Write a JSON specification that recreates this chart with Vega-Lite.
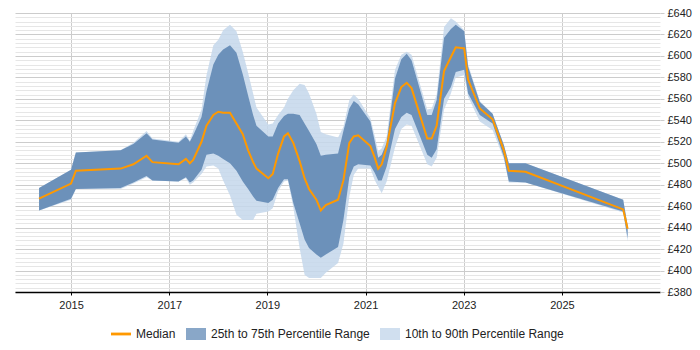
{
  "$schema": "https://vega.github.io/schema/vega-lite/v6.json",
  "width": 645,
  "height": 279,
  "autosize": "none",
  "padding": {"left": 15, "top": 13, "right": 40, "bottom": 58},
  "background": "#ffffff",
  "config": {
    "view": {"stroke": null},
    "font": "Liberation Sans",
    "legend": {"layout": {"bottom": {"anchor": "middle"}}}
  },
  "data": {
    "values": [
      {"d": "2014-05-08", "p10": 456, "p25": 456, "med": 467, "p75": 477, "p90": 477},
      {"d": "2015-01-01", "p10": 466, "p25": 467, "med": 481, "p75": 494, "p90": 494},
      {"d": "2015-02-06", "p10": 476, "p25": 476, "med": 493, "p75": 510, "p90": 510},
      {"d": "2016-01-05", "p10": 476, "p25": 477, "med": 495, "p75": 512, "p90": 512},
      {"d": "2016-04-09", "p10": 481, "p25": 482, "med": 499, "p75": 518, "p90": 519},
      {"d": "2016-07-16", "p10": 487, "p25": 488, "med": 507, "p75": 528, "p90": 530},
      {"d": "2016-08-29", "p10": 484, "p25": 484, "med": 501, "p75": 522, "p90": 523},
      {"d": "2017-03-11", "p10": 483, "p25": 483, "med": 499, "p75": 519, "p90": 520},
      {"d": "2017-05-05", "p10": 486, "p25": 487, "med": 504, "p75": 525, "p90": 527},
      {"d": "2017-06-03", "p10": 480, "p25": 482, "med": 500, "p75": 520, "p90": 521},
      {"d": "2017-06-28", "p10": 482, "p25": 484, "med": 503, "p75": 526, "p90": 530},
      {"d": "2017-08-29", "p10": 490, "p25": 494, "med": 520, "p75": 543, "p90": 550},
      {"d": "2017-10-05", "p10": 497, "p25": 508, "med": 535, "p75": 567, "p90": 582},
      {"d": "2017-11-25", "p10": 498, "p25": 509, "med": 545, "p75": 592, "p90": 610},
      {"d": "2018-01-01", "p10": 495, "p25": 507, "med": 548, "p75": 601, "p90": 615},
      {"d": "2018-02-06", "p10": 484, "p25": 504, "med": 547, "p75": 606, "p90": 624},
      {"d": "2018-03-29", "p10": 470, "p25": 500, "med": 547, "p75": 610, "p90": 629},
      {"d": "2018-05-16", "p10": 452, "p25": 493, "med": 537, "p75": 603, "p90": 623},
      {"d": "2018-07-02", "p10": 447, "p25": 483, "med": 527, "p75": 583, "p90": 604},
      {"d": "2018-08-11", "p10": 447, "p25": 476, "med": 512, "p75": 563, "p90": 584},
      {"d": "2018-09-17", "p10": 447, "p25": 469, "med": 501, "p75": 545, "p90": 565},
      {"d": "2018-10-12", "p10": 453, "p25": 465, "med": 495, "p75": 535, "p90": 552},
      {"d": "2019-01-08", "p10": 455, "p25": 463, "med": 486, "p75": 525, "p90": 536},
      {"d": "2019-02-10", "p10": 458, "p25": 466, "med": 490, "p75": 525, "p90": 537},
      {"d": "2019-03-22", "p10": 474, "p25": 477, "med": 509, "p75": 537, "p90": 545},
      {"d": "2019-05-05", "p10": 483, "p25": 485, "med": 525, "p75": 544, "p90": 552},
      {"d": "2019-06-03", "p10": 484, "p25": 485, "med": 528, "p75": 546, "p90": 560},
      {"d": "2019-07-13", "p10": 459, "p25": 463, "med": 519, "p75": 546, "p90": 568},
      {"d": "2019-08-29", "p10": 421, "p25": 444, "med": 502, "p75": 545, "p90": 574},
      {"d": "2019-10-05", "p10": 396, "p25": 429, "med": 486, "p75": 537, "p90": 573},
      {"d": "2019-11-07", "p10": 393, "p25": 421, "med": 476, "p75": 530, "p90": 565},
      {"d": "2020-01-01", "p10": 393, "p25": 415, "med": 466, "p75": 518, "p90": 546},
      {"d": "2020-02-03", "p10": 393, "p25": 412, "med": 456, "p75": 507, "p90": 529},
      {"d": "2020-03-11", "p10": 398, "p25": 415, "med": 461, "p75": 508, "p90": 527},
      {"d": "2020-06-10", "p10": 407, "p25": 422, "med": 466, "p75": 509, "p90": 524},
      {"d": "2020-07-20", "p10": 425, "p25": 447, "med": 484, "p75": 530, "p90": 534},
      {"d": "2020-09-02", "p10": 469, "p25": 487, "med": 519, "p75": 551, "p90": 559},
      {"d": "2020-10-05", "p10": 489, "p25": 497, "med": 525, "p75": 558, "p90": 564},
      {"d": "2020-11-07", "p10": 495, "p25": 499, "med": 526, "p75": 555, "p90": 560},
      {"d": "2021-02-06", "p10": 495, "p25": 498, "med": 516, "p75": 539, "p90": 542},
      {"d": "2021-03-11", "p10": 484, "p25": 491, "med": 505, "p75": 520, "p90": 525},
      {"d": "2021-04-05", "p10": 478, "p25": 484, "med": 495, "p75": 505, "p90": 511},
      {"d": "2021-05-01", "p10": 472, "p25": 484, "med": 499, "p75": 508, "p90": 514},
      {"d": "2021-06-07", "p10": 483, "p25": 497, "med": 515, "p75": 519, "p90": 525},
      {"d": "2021-08-08", "p10": 515, "p25": 532, "med": 556, "p75": 579, "p90": 587},
      {"d": "2021-09-24", "p10": 532, "p25": 543, "med": 571, "p75": 597, "p90": 601},
      {"d": "2021-11-03", "p10": 536, "p25": 547, "med": 575, "p75": 602, "p90": 604},
      {"d": "2021-12-09", "p10": 535, "p25": 545, "med": 570, "p75": 596, "p90": 601},
      {"d": "2022-04-05", "p10": 499, "p25": 508, "med": 523, "p75": 545, "p90": 550},
      {"d": "2022-05-08", "p10": 497, "p25": 505, "med": 523, "p75": 545, "p90": 551},
      {"d": "2022-06-14", "p10": 505, "p25": 513, "med": 535, "p75": 559, "p90": 564},
      {"d": "2022-08-08", "p10": 550, "p25": 560, "med": 586, "p75": 617, "p90": 627},
      {"d": "2022-09-28", "p10": 565, "p25": 571, "med": 599, "p75": 625, "p90": 635},
      {"d": "2022-11-03", "p10": 580, "p25": 585, "med": 608, "p75": 629, "p90": 632},
      {"d": "2023-01-05", "p10": 582, "p25": 587, "med": 607, "p75": 623, "p90": 624},
      {"d": "2023-02-03", "p10": 562, "p25": 565, "med": 578, "p75": 590, "p90": 592},
      {"d": "2023-05-01", "p10": 539, "p25": 545, "med": 551, "p75": 557, "p90": 558},
      {"d": "2023-08-04", "p10": 531, "p25": 537, "med": 541, "p75": 546, "p90": 546},
      {"d": "2023-10-27", "p10": 504, "p25": 506, "med": 512, "p75": 517, "p90": 517},
      {"d": "2023-12-03", "p10": 482, "p25": 483, "med": 493, "p75": 500, "p90": 500},
      {"d": "2024-04-05", "p10": 482, "p25": 482, "med": 492, "p75": 500, "p90": 500},
      {"d": "2026-04-02", "p10": 454, "p25": 455, "med": 457, "p75": 466, "p90": 466},
      {"d": "2026-05-05", "p10": 427, "p25": 430, "med": 439, "p75": 442, "p90": 442}
    ]
  },
  "encoding": {
    "x": {
      "field": "d",
      "type": "temporal",
      "scale": {"domain": ["2013-11-10", "2027-01-01"]},
      "axis": {
        "title": null,
        "format": "%Y",
        "values": ["2015-01-01", "2017-01-01", "2019-01-01", "2021-01-01", "2023-01-01", "2025-01-01"],
        "grid": true,
        "gridColor": "#cccccc",
        "domainColor": "#000000",
        "domainWidth": 1.5,
        "tickColor": "#000000",
        "tickSize": 3,
        "labelPadding": 4,
        "labelFontSize": 11,
        "labelColor": "#222222",
        "labelFont": "Liberation Sans"
      }
    }
  },
  "layer": [
    {
      "mark": {"type": "area", "opacity": 0.85, "interpolate": "linear"},
      "encoding": {
        "y": {
          "field": "p10",
          "type": "quantitative",
          "scale": {"domain": [380, 640], "nice": false, "zero": false},
          "axis": {
            "title": null,
            "orient": "right",
            "tickCount": 200,
            "values": [380, 384, 388, 392, 396, 400, 404, 408, 412, 416, 420, 424, 428, 432, 436, 440, 444, 448, 452, 456, 460, 464, 468, 472, 476, 480, 484, 488, 492, 496, 500, 504, 508, 512, 516, 520, 524, 528, 532, 536, 540, 544, 548, 552, 556, 560, 564, 568, 572, 576, 580, 584, 588, 592, 596, 600, 604, 608, 612, 616, 620, 624, 628, 632, 636, 640],
            "labelExpr": "datum.value % 20 === 0 ? '£' + datum.value : ''",
            "labelOverlap": false,
            "labelBound": false,
            "grid": true,
            "gridColor": {"condition": {"test": "datum.value % 20 === 0", "value": "#cccccc"}, "value": "#e6e6e6"},
            "domain": false,
            "tickColor": "#cccccc",
            "tickOpacity": {"condition": {"test": "datum.value % 20 === 0", "value": 1}, "value": 0},
            "tickSize": 4,
            "labelPadding": 3,
            "labelFontSize": 11,
            "labelColor": "#222222",
            "labelFont": "Liberation Sans"
          }
        },
        "y2": {"field": "p90"},
        "color": {"datum": "10th to 90th Percentile Range"}
      }
    },
    {
      "mark": {"type": "area", "opacity": 1, "interpolate": "linear"},
      "encoding": {
        "y": {"field": "p25", "type": "quantitative"},
        "y2": {"field": "p75"},
        "color": {"datum": "25th to 75th Percentile Range"}
      }
    },
    {
      "mark": {"type": "line", "strokeWidth": 2, "interpolate": "linear"},
      "encoding": {
        "y": {"field": "med", "type": "quantitative"},
        "color": {
          "datum": "Median",
          "scale": {
            "domain": ["Median", "25th to 75th Percentile Range", "10th to 90th Percentile Range"],
            "range": ["#ff9900", "#6c91ba", "#c4d7eb"]
          },
          "legend": {
            "title": null,
            "orient": "bottom",
            "direction": "horizontal",
            "offset": 14,
            "labelFontSize": 12,
            "labelFont": "Liberation Sans",
            "labelColor": "#222222",
            "labelOffset": 5,
            "columnPadding": 10,
            "symbolSize": 400,
            "symbolType": "M-1,-0.6H1V0.6H-1Z",
            "symbolStrokeWidth": 0,
            "encode": {
              "symbols": {
                "update": {
                  "shape": {"signal": "datum.value === 'Median' ? 'M-1,-0.14H1V0.14H-1Z' : 'M-1,-0.6H1V0.6H-1Z'"},
                  "fill": {"scale": "color", "field": "value"},
                  "fillOpacity": {"signal": "datum.value === 'Median' ? 1 : 0.8"},
                  "strokeWidth": {"value": 0}
                }
              }
            }
          }
        }
      }
    }
  ]
}
